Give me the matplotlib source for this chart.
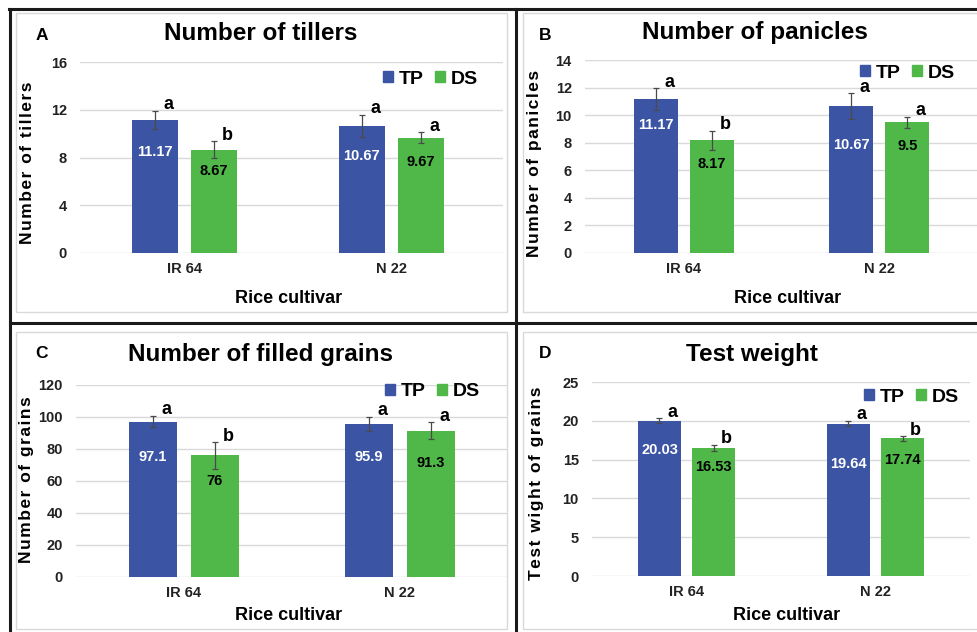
import matplotlib.pyplot as plt
from matplotlib.patches import Rectangle, Patch
from matplotlib.lines import Line2D

plt.rcParams['font.family'] = ['Liberation Sans', 'DejaVu Sans']
plt.rcParams['font.weight'] = 'bold'

cultivars = ['IR 64', 'N 22']
series = ['TP', 'DS']

tillers_tp = [11.17, 10.67]
tillers_ds = [8.67, 9.67]
tillers_tp_err = [0.75, 0.92]
tillers_ds_err = [0.71, 0.45]
tillers_tp_sig = ['a', 'a']
tillers_ds_sig = ['b', 'a']

panicles_tp = [11.17, 10.67]
panicles_ds = [8.17, 9.5]
panicles_tp_err = [0.80, 0.94]
panicles_ds_err = [0.69, 0.40]
panicles_tp_sig = ['a', 'a']
panicles_ds_sig = ['b', 'a']

grains_tp = [97.1, 95.9]
grains_ds = [76, 91.3]
grains_tp_err = [3.6, 4.4]
grains_ds_err = [8.2, 5.3]
grains_tp_sig = ['a', 'a']
grains_ds_sig = ['b', 'a']

weight_tp = [20.03, 19.64]
weight_ds = [16.53, 17.74]
weight_tp_err = [0.28, 0.37]
weight_ds_err = [0.41, 0.30]
weight_tp_sig = ['a', 'a']
weight_ds_sig = ['b', 'b']

BLUE = '#3c54a4'
GREEN = '#4fb848'
GRID = '#d9d9d9'

W, H = 977, 632


def fx(x):
    return x / W


def fy(y):
    return 1 - y / H


def spaced(s):
    # loose tracking for the axis titles
    return '\u200a'.join(s)


fig = plt.figure(figsize=(W / 100, H / 100), dpi=100)

# outer frame and quadrant dividers
for xs, ys in [((9, W), (9, 9)), ((10, 10), (9, H)),
               ((516, 516), (9, H)), ((10, W), (323, 323))]:
    fig.add_artist(Line2D([fx(v) for v in xs], [fy(v) for v in ys],
                          color='#1a1a1a', lw=2.2))

# light chart-area borders
for l, t, r, b in [(16, 13, 507, 312), (523, 13, 990, 312),
                   (16, 332, 507, 629), (523, 332, 990, 629)]:
    fig.add_artist(Rectangle((fx(l), fy(b)), fx(r - l), (b - t) / H,
                             fill=False, ec=GRID, lw=1))

panels = [
    dict(tag='A', title='Number of tillers', ylabel='Number of tillers',
         tp=tillers_tp, ds=tillers_ds, tp_err=tillers_tp_err, ds_err=tillers_ds_err,
         tp_sig=tillers_tp_sig, ds_sig=tillers_ds_sig,
         box=(80, 62, 503, 253), xlim=(-0.505, 1.539), ylim=16, step=4,
         title_xy=(261, 34), tag_xy=(42, 36), ylabel_xy=(28, 163),
         xlabel_xy=(289, 298), legend_xy=(488, 79),
         drop=[[32, 30], [21, 24]]),
    dict(tag='B', title='Number of panicles', ylabel='Number of panicles',
         tp=panicles_tp, ds=panicles_ds, tp_err=panicles_tp_err, ds_err=panicles_ds_err,
         tp_sig=panicles_tp_sig, ds_sig=panicles_ds_sig,
         box=(585, 60, 977, 253), xlim=(-0.506, 1.5), ylim=14, step=2,
         title_xy=(755, 32), tag_xy=(545, 36), ylabel_xy=(535, 163),
         xlabel_xy=(788, 298), legend_xy=(965, 73),
         drop=[[26, 39], [24, 24]]),
    dict(tag='C', title='Number of filled grains', ylabel='Number of grains',
         tp=grains_tp, ds=grains_ds, tp_err=grains_tp_err, ds_err=grains_ds_err,
         tp_sig=grains_tp_sig, ds_sig=grains_ds_sig,
         box=(76, 385, 508, 577), xlim=(-0.5, 1.5), ylim=120, step=20,
         title_xy=(260, 354), tag_xy=(42, 354), ylabel_xy=(27, 480),
         xlabel_xy=(289, 615), legend_xy=(490, 392),
         drop=[[35, 33], [26, 32]]),
    dict(tag='D', title='Test weight', ylabel='Test wight of grains',
         tp=weight_tp, ds=weight_ds, tp_err=weight_tp_err, ds_err=weight_ds_err,
         tp_sig=weight_tp_sig, ds_sig=weight_ds_sig,
         box=(592, 382, 970, 576), xlim=(-0.5, 1.5), ylim=25, step=5,
         title_xy=(752, 354), tag_xy=(545, 354), ylabel_xy=(537, 483),
         xlabel_xy=(787, 616), legend_xy=(969, 397),
         drop=[[29, 40], [19, 22]]),
]

width = 0.225
shift = 0.143
x = list(range(len(cultivars)))

for p in panels:
    l, t, r, b = p['box']
    ax = fig.add_axes([fx(l), fy(b), fx(r - l), (b - t) / H])
    ax.set_xlim(*p['xlim'])
    ax.set_ylim(0, p['ylim'])
    ax.set_yticks(range(0, p['ylim'] + 1, p['step']))
    ax.set_xticks(x)
    ax.set_xticklabels(cultivars)
    ax.tick_params(length=0, labelsize=10.5, labelcolor='#222222')
    ax.tick_params(axis='y', pad=9.5)
    ax.tick_params(axis='x', pad=6.5)
    for s in ax.spines.values():
        s.set_visible(False)
    ax.grid(axis='y', color=GRID, lw=1)
    ax.set_axisbelow(True)

    groups = [
        (p['tp'], p['tp_err'], p['tp_sig'], BLUE, 'white', -shift, p['drop'][0]),
        (p['ds'], p['ds_err'], p['ds_sig'], GREEN, 'black', shift, p['drop'][1]),
    ]
    for vals, errs, sigs, col, tcol, dx, drops in groups:
        xs = [i + dx for i in x]
        ax.bar(xs, vals, width, color=col, zorder=2)
        ax.errorbar(xs, vals, yerr=errs, fmt='none', ecolor='#4a4a4a',
                    elinewidth=0.9, capsize=2.5, capthick=0.9, zorder=3)
        for xi, v, e, s, d in zip(xs, vals, errs, sigs, drops):
            ax.annotate(f'{v:g}', (xi, v), xytext=(0, -d * 0.72),
                        textcoords='offset points', ha='center', va='center',
                        color=tcol, fontsize=10.5, fontweight='bold')
            ax.annotate(s, (xi, v + e), xytext=(9.5, 1),
                        textcoords='offset points', ha='center', va='baseline',
                        fontsize=13, fontweight='bold')

    fig.text(fx(p['title_xy'][0]), fy(p['title_xy'][1]), p['title'],
             ha='center', va='center', fontsize=17.5, fontweight='bold')
    fig.text(fx(p['tag_xy'][0]), fy(p['tag_xy'][1]), p['tag'],
             ha='center', va='center', fontsize=12.5, fontweight='bold')
    fig.text(fx(p['ylabel_xy'][0]), fy(p['ylabel_xy'][1]), spaced(p['ylabel']),
             ha='center', va='center', rotation=90, fontsize=12.5,
             fontweight='bold')
    fig.text(fx(p['xlabel_xy'][0]), fy(p['xlabel_xy'][1]), 'Rice cultivar',
             ha='center', va='center', fontsize=13, fontweight='bold')

    handles = [Patch(color=BLUE, label=series[0]), Patch(color=GREEN, label=series[1])]
    fig.legend(handles=handles, loc='center right',
               bbox_to_anchor=(fx(p['legend_xy'][0]), fy(p['legend_xy'][1])),
               ncol=2, frameon=False, borderpad=0,
               handlelength=0.52, handleheight=0.52, handletextpad=0.3,
               columnspacing=0.6, prop={'weight': 'bold', 'size': 14})

fig.savefig('out.png', dpi=100)
